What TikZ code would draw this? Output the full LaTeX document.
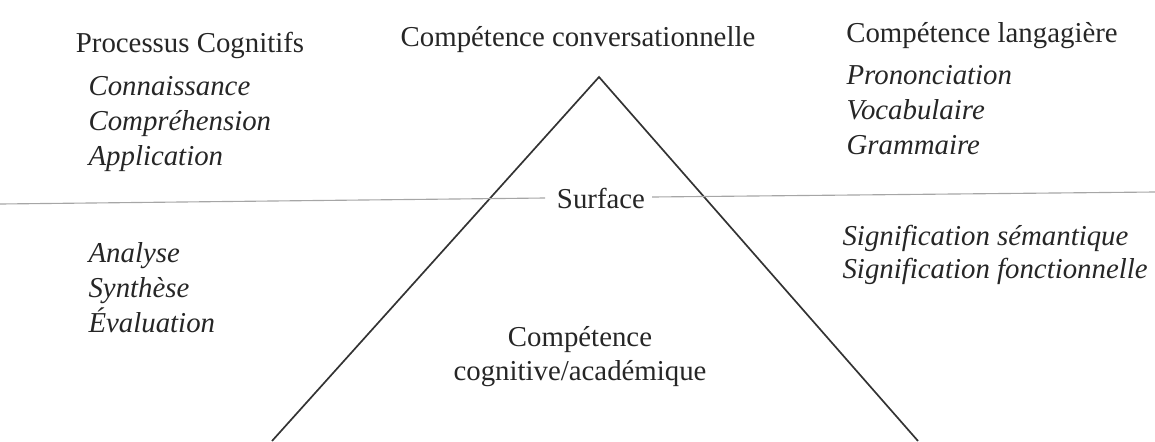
\documentclass[tikz,border=0pt]{standalone}
\usepackage{fontspec}
\setmainfont{Liberation Serif}
\usepackage{tikz}

\begin{document}
\begin{tikzpicture}[x=0.025cm, y=-0.025cm, thick,
    main/.style = {inner sep=0pt, text=black!85, font=\fontsize{20.5}{24}\selectfont},
    item/.style = {main, anchor=base west, font=\fontsize{20.5}{24}\selectfont\itshape},
    head/.style = {main, anchor=base}]
    \useasboundingbox (0,0) rectangle (1155,441);

	\node [head] (proc) at (190, 52) {Processus Cognitifs};
	\node [head] (conv) at (578, 46) {Compétence conversationnelle};
	\node [head] (lang) at (982, 42) {Compétence langagière};

	\node [item] (conn) at (88, 95) {Connaissance};
	\node [item] (compr) at (88, 130) {Compréhension};
	\node [item] (appl) at (88, 165) {Application};
	\node [item] (pron) at (846, 84) {Prononciation};
	\node [item] (voc) at (846, 119) {Vocabulaire};
	\node [item] (gram) at (846, 154) {Grammaire};

	\node [item] (anal) at (88, 262) {Analyse};
	\node [item] (synt) at (88, 297) {Synthèse};
	\node [item] (eval) at (88, 332) {Évaluation};
	\node [item] (sem) at (842, 245) {Signification sémantique};
	\node [item] (fonc) at (842, 278) {Signification fonctionnelle};

	\node [head] (surf) at (601, 208) {Surface};
	\node [head, align=center] (cog) at (580, 380) {Compétence\\cognitive/académique};

	\coordinate (apex) at (599, 77);
	\coordinate (bl) at (272, 441);
	\coordinate (br) at (918, 441);
	\coordinate (sl) at (0, 204);
	\coordinate (sw) at (545, 198);
	\coordinate (se) at (652, 197);
	\coordinate (sr) at (1155, 192);

    \draw[black!80, line width=1.2pt] (bl) -- (apex) -- (br);
    \draw[gray!70, line width=0.8pt] (sl) -- (sw);
    \draw[gray!70, line width=0.8pt] (se) -- (sr);

\end{tikzpicture}
\end{document}
